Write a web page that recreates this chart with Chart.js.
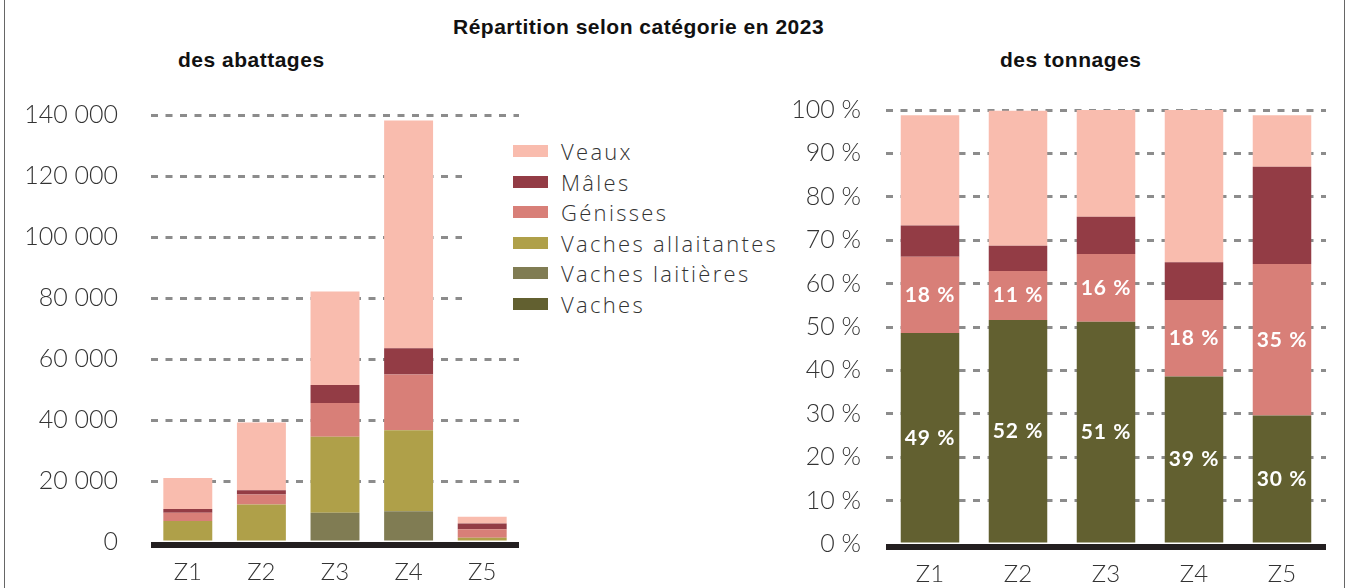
<!DOCTYPE html>
<html lang="fr">
<head>
<meta charset="utf-8">
<title>Répartition selon catégorie en 2023</title>
<script src="https://cdn.jsdelivr.net/npm/chart.js@4"></script>
<style>
    body { margin: 0; width: 1349px; height: 588px; background: #fff; overflow: hidden; position: relative; font-family: 'Lato', sans-serif; color: #333; }
    .cadre { position: absolute; left: 4px; top: 0; width: 1339px; height: 588px; border-left: 1px solid #666; border-right: 1px solid #666; }
    .titre { position: absolute; font-family: 'Liberation Sans', sans-serif; font-weight: bold; font-size: 21px; letter-spacing: 0.5px; line-height: 24px; color: #111; white-space: nowrap; }
    .boite { position: absolute; }
    #legende { position: absolute; left: 462px; top: 128px; width: 330px; height: 195px; background: #fff; padding-top: 8px; box-sizing: border-box; }
    #legende .ligne { height: 30.5px; display: flex; align-items: center; font-family: 'Open Sans', sans-serif; font-size: 22px; font-weight: 300; letter-spacing: 2.3px; color: #333; white-space: nowrap; }
    #legende .carre { width: 35px; height: 12px; margin-left: 51px; margin-right: 13px; flex: none; }
</style>
</head>
<body>
<div class="cadre"></div>
<div class="titre" style="left:453px; top:15px;">Répartition selon catégorie en 2023</div>
<div class="titre" style="left:178px; top:48px;">des abattages</div>
<div class="titre" style="left:1000px; top:48px;">des tonnages</div>

<div class="boite" style="left:0; top:67px; width:530px; height:523px;"><canvas id="graficoAbattages"></canvas></div>
<div id="legende"></div>
<div class="boite" style="left:780px; top:70px; width:560px; height:520px;"><canvas id="graficoTonnages"></canvas></div>

<script>
var zonas = ['Z1', 'Z2', 'Z3', 'Z4', 'Z5'];

// abattages (têtes)
var abatVachesLaitieres = [0, 0, 9600, 10100, 0];
var abatVachesAllaitantes = [6900, 12300, 24900, 26500, 1400];
var abatGenisses = [2700, 3300, 11100, 18300, 2800];
var abatMales = [1200, 1400, 5900, 8600, 1900];
var abatVeaux = [10200, 22200, 30600, 74700, 2200];

// tonnages (%)
var tonVaches = [48.6, 51.6, 51.2, 38.6, 29.6];
var tonGenisses = [17.6, 11.3, 15.6, 17.6, 34.9];
var tonMales = [7.2, 5.8, 8.6, 8.7, 22.4];
var tonVeaux = [25.4, 31.1, 24.6, 35.1, 11.9];

var ticksAbattages = [0, 20000, 40000, 60000, 80000, 100000, 120000, 140000];
var ticksTonnages = [0, 10, 20, 30, 40, 50, 60, 70, 80, 90, 100];

var cores = {
    'Veaux': '#f9bcae',
    'Mâles': '#933c45',
    'Génisses': '#d87f78',
    'Vaches allaitantes': '#afa049',
    'Vaches laitières': '#807c53',
    'Vaches': '#626030'
};
var ordemLegenda = ['Veaux', 'Mâles', 'Génisses', 'Vaches allaitantes', 'Vaches laitières', 'Vaches'];

Chart.defaults.font.family = 'Lato, sans-serif';
Chart.defaults.font.weight = '300';
Chart.defaults.color = '#333';

var legenda = document.getElementById('legende');
ordemLegenda.forEach(function (nome) {
    var linha = document.createElement('div');
    linha.className = 'ligne';
    linha.innerHTML = '<span class="carre" style="background:' + cores[nome] + '"></span><span>' + nome + '</span>';
    legenda.appendChild(linha);
});

function serie(nome, valores, rotulo) {
    return { label: nome, data: valores, backgroundColor: cores[nome], borderWidth: 0, mostrarRotulo: !!rotulo };
}

function formataMilhar(v) {
    return String(v).replace(/\B(?=(\d{3})+(?!\d))/g, ' ');
}

var linhaBase = {
    id: 'linhaBase',
    afterDatasetsDraw: function (chart) {
        var ctx = chart.ctx, x = chart.scales.x, y = chart.scales.y;
        var y0 = y.getPixelForValue(0);
        ctx.save();
        ctx.fillStyle = '#231f20';
        ctx.fillRect(x.left, y0, x.right - x.left, 6);
        ctx.restore();
    }
};

var rotulos = {
    id: 'rotulos',
    afterDatasetsDraw: function (chart) {
        var ctx = chart.ctx;
        ctx.save();
        ctx.font = 'bold 21px Lato, sans-serif';
        ctx.letterSpacing = '1px';
        ctx.fillStyle = '#fff';
        ctx.textAlign = 'center';
        ctx.textBaseline = 'middle';
        chart.data.datasets.forEach(function (ds, i) {
            if (!ds.mostrarRotulo) return;
            chart.getDatasetMeta(i).data.forEach(function (barra, j) {
                var p = barra.getProps(['x', 'y', 'base'], true);
                ctx.fillText(Math.round(ds.data[j]) + ' %', p.x, (p.y + p.base) / 2);
            });
        });
        ctx.restore();
    }
};

function opcoes(max, ticks, larguraY, formato, padTick) {
    return {
        responsive: true,
        maintainAspectRatio: false,
        animation: false,
        datasets: { bar: { barPercentage: 0.665, categoryPercentage: 1 } },
        layout: { padding: 0 },
        plugins: { legend: { display: false }, tooltip: { enabled: false } },
        scales: {
            x: {
                stacked: true,
                grid: { display: false },
                border: { display: false },
                ticks: { font: { size: 24 }, padding: 8 },
                afterFit: function (s) { s.height = 46; }
            },
            y: {
                stacked: true,
                min: 0, max: max,
                afterBuildTicks: function (s) { s.ticks = ticks.map(function (v) { return { value: v }; }); },
                grid: {
                    drawTicks: false,
                    lineWidth: 3,
                    color: function (c) { return c.tick && c.tick.value === 0 ? 'rgba(0,0,0,0)' : '#8c8c8c'; }
                },
                border: { display: false, dash: [7, 7.5] },
                ticks: { font: { size: 25 }, padding: padTick, callback: formato },
                afterFit: function (s) { s.width = larguraY; }
            }
        }
    };
}

var opAbattages = opcoes(140000, ticksAbattages, 151, function (v) { return formataMilhar(v); }, 33);
opAbattages.layout.padding = { top: 24, right: 11, left: 0, bottom: 0 };
new Chart(document.getElementById('graficoAbattages'), {
    type: 'bar',
    data: {
        labels: zonas,
        datasets: [
            serie('Vaches laitières', abatVachesLaitieres),
            serie('Vaches allaitantes', abatVachesAllaitantes),
            serie('Génisses', abatGenisses),
            serie('Mâles', abatMales),
            serie('Veaux', abatVeaux)
        ]
    },
    options: opAbattages,
    plugins: [linhaBase]
});

var opTonnages = opcoes(100, ticksTonnages, 106, function (v) { return v + ' %'; }, 25);
opTonnages.layout.padding = { top: 19, right: 14, left: 0, bottom: 0 };
new Chart(document.getElementById('graficoTonnages'), {
    type: 'bar',
    data: {
        labels: zonas,
        datasets: [
            serie('Vaches', tonVaches, true),
            serie('Génisses', tonGenisses, true),
            serie('Mâles', tonMales),
            serie('Veaux', tonVeaux)
        ]
    },
    options: opTonnages,
    plugins: [linhaBase, rotulos]
});
</script>
</body>
</html>
